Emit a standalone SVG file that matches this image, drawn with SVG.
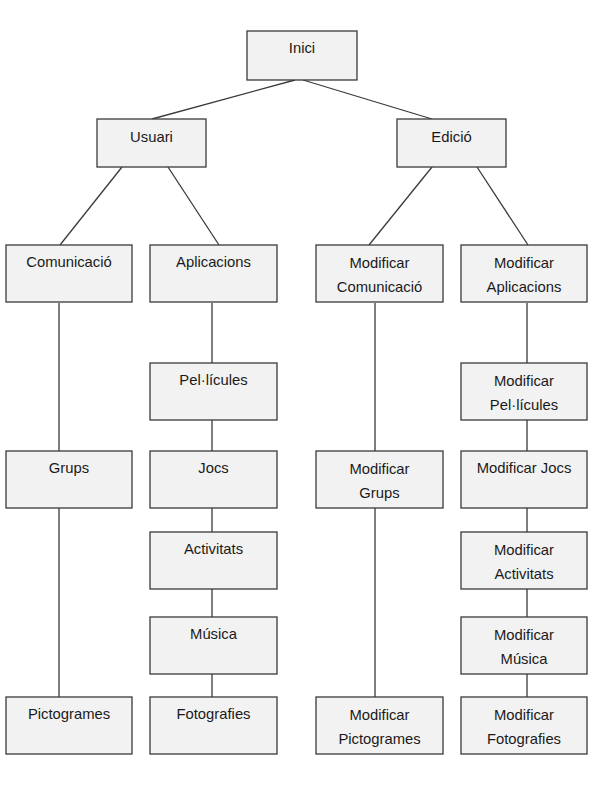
<svg xmlns="http://www.w3.org/2000/svg" width="594" height="791" viewBox="0 0 594 791">
<style>
.box{fill:#f2f2f2;stroke:#3a3a3a;stroke-width:1.3}
.lbl{font-family:"Liberation Sans",Arial,sans-serif;font-size:14.8px;fill:#1a1a1a;text-anchor:middle}
.con line{stroke:#3a3a3a;stroke-width:1.3}
</style>
<rect width="594" height="791" fill="#ffffff"/>
<g id="connectors" class="con">
<line x1="295" y1="80" x2="152" y2="119"/>
<line x1="303" y1="80" x2="432" y2="119"/>
<line x1="122" y1="167" x2="60" y2="245"/>
<line x1="168" y1="167" x2="219" y2="245"/>
<line x1="432" y1="167" x2="369" y2="245"/>
<line x1="477" y1="167" x2="528" y2="245"/>
<line x1="59" y1="303" x2="59" y2="451"/>
<line x1="59" y1="508" x2="59" y2="697"/>
<line x1="212" y1="303" x2="212" y2="363"/>
<line x1="212" y1="420" x2="212" y2="451"/>
<line x1="212" y1="508" x2="212" y2="532"/>
<line x1="212" y1="589" x2="212" y2="617"/>
<line x1="212" y1="674" x2="212" y2="697"/>
<line x1="375" y1="303" x2="375" y2="451"/>
<line x1="375" y1="508" x2="375" y2="697"/>
<line x1="527" y1="303" x2="527" y2="363"/>
<line x1="527" y1="420" x2="527" y2="451"/>
<line x1="527" y1="508" x2="527" y2="532"/>
<line x1="527" y1="589" x2="527" y2="617"/>
<line x1="527" y1="674" x2="527" y2="697"/>
</g>
<g id="inici"><rect class="box" x="247" y="31" width="110" height="49"/><text class="lbl" x="302" y="53">Inici</text></g>
<g id="usuari"><rect class="box" x="97" y="119" width="109" height="48"/><text class="lbl" x="151.5" y="141.5">Usuari</text></g>
<g id="edicio"><rect class="box" x="397" y="119" width="109" height="48"/><text class="lbl" x="451.5" y="141.5">Edició</text></g>

<g id="comunicacio"><rect class="box" x="6" y="245" width="126" height="57"/><text class="lbl" x="69" y="267">Comunicació</text></g>
<g id="aplicacions"><rect class="box" x="150" y="245" width="127" height="57"/><text class="lbl" x="213.5" y="267">Aplicacions</text></g>
<g id="mod-comunicacio"><rect class="box" x="316" y="245" width="127" height="57"/><text class="lbl" x="379.5" y="268">Modificar</text><text class="lbl" x="379.5" y="291.5">Comunicació</text></g>
<g id="mod-aplicacions"><rect class="box" x="461" y="245" width="126" height="57"/><text class="lbl" x="524" y="268">Modificar</text><text class="lbl" x="524" y="291.5">Aplicacions</text></g>

<g id="pellicules"><rect class="box" x="150" y="363" width="127" height="57"/><text class="lbl" x="213.5" y="385">Pel·lícules</text></g>
<g id="mod-pellicules"><rect class="box" x="461" y="363" width="126" height="57"/><text class="lbl" x="524" y="386">Modificar</text><text class="lbl" x="524" y="409.5">Pel·lícules</text></g>

<g id="grups"><rect class="box" x="6" y="451" width="126" height="57"/><text class="lbl" x="69" y="473">Grups</text></g>
<g id="jocs"><rect class="box" x="150" y="451" width="127" height="57"/><text class="lbl" x="213.5" y="473">Jocs</text></g>
<g id="mod-grups"><rect class="box" x="316" y="451" width="127" height="57"/><text class="lbl" x="379.5" y="474">Modificar</text><text class="lbl" x="379.5" y="497.5">Grups</text></g>
<g id="mod-jocs"><rect class="box" x="461" y="451" width="126" height="57"/><text class="lbl" x="524" y="473">Modificar Jocs</text></g>

<g id="activitats"><rect class="box" x="150" y="532" width="127" height="57"/><text class="lbl" x="213.5" y="554">Activitats</text></g>
<g id="mod-activitats"><rect class="box" x="461" y="532" width="126" height="57"/><text class="lbl" x="524" y="555">Modificar</text><text class="lbl" x="524" y="578.5">Activitats</text></g>

<g id="musica"><rect class="box" x="150" y="617" width="127" height="57"/><text class="lbl" x="213.5" y="639">Música</text></g>
<g id="mod-musica"><rect class="box" x="461" y="617" width="126" height="57"/><text class="lbl" x="524" y="640">Modificar</text><text class="lbl" x="524" y="663.5">Música</text></g>

<g id="pictogrames"><rect class="box" x="6" y="697" width="126" height="57"/><text class="lbl" x="69" y="719">Pictogrames</text></g>
<g id="fotografies"><rect class="box" x="150" y="697" width="127" height="57"/><text class="lbl" x="213.5" y="719">Fotografies</text></g>
<g id="mod-pictogrames"><rect class="box" x="316" y="697" width="127" height="57"/><text class="lbl" x="379.5" y="720">Modificar</text><text class="lbl" x="379.5" y="743.5">Pictogrames</text></g>
<g id="mod-fotografies"><rect class="box" x="461" y="697" width="126" height="57"/><text class="lbl" x="524" y="720">Modificar</text><text class="lbl" x="524" y="743.5">Fotografies</text></g>
</svg>
